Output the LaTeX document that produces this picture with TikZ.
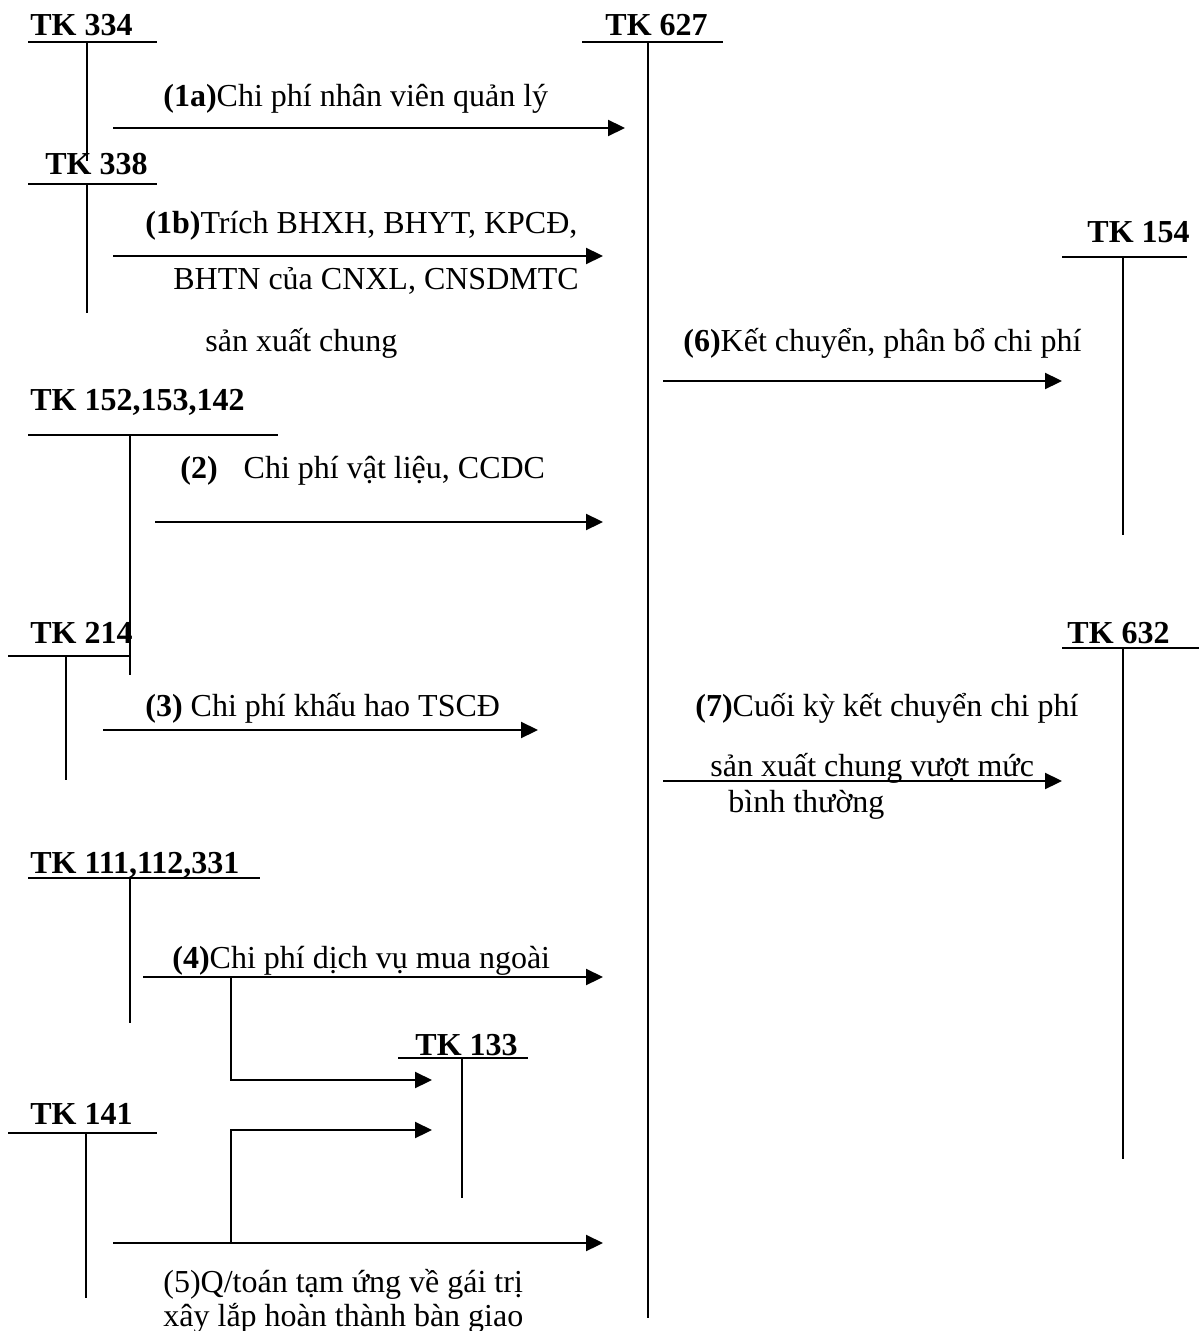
\documentclass[tikz,border=0pt]{standalone}
\usepackage{fontspec}
\setmainfont{Liberation Serif}
\usetikzlibrary{arrows.meta}

\begin{document}
\begin{tikzpicture}[x=0.5pt,y=-0.5pt,
  font=\fontsize{16}{19}\selectfont,
  tk/.style={font=\fontsize{16}{19}\selectfont\bfseries,anchor=base west,inner sep=0pt},
  lbl/.style={anchor=base west,inner sep=0pt},
  tline/.style={line width=0.9pt},
  ar/.style={line width=1.1pt,-{Triangle[length=8.5pt,width=8pt]}},
  br/.style={line width=1.1pt}]
\useasboundingbox (0,0) rectangle (1199,1331);
% ---- T accounts: name/label/label x/baseline/line from/line to/line y/stem x/stem end ----
\foreach \n/\t/\lx/\ly/\ax/\bx/\hy/\vx/\vy in {
  334/{TK 334}/30/36/28/157/42/87/161,
  627/{TK 627}/605/36/582/723/42/648/1318,
  338/{TK 338}/45/175/28/157/184/87/313,
  154/{TK 154}/1087/243/1062/1187/257/1123/535,
  152/{TK 152,153,142}/30/411/28/278/435/130/675,
  214/{TK 214}/30/643/8/130/656/66/780,
  632/{TK 632}/1067/643/1062/1199/648/1123/1159,
  111/{TK 111,112,331}/30/873/28/260/878/130/1023,
  133/{TK 133}/415/1055/398/528/1058/462/1198,
  141/{TK 141}/30/1124/8/157/1133/86/1298}{
  \node[tk] (tk\n) at (\lx,\ly) {\t};
  \draw[tline] (\ax,\hy) -- (\bx,\hy) (\vx,\hy) -- (\vx,\vy);}
% ---- arrow ends ----
\coordinate (s1a) at (113,128);  \coordinate (e1a) at (625,128);
\coordinate (s1b) at (113,256);  \coordinate (e1b) at (603,256);
\coordinate (s6) at (663,381);   \coordinate (e6) at (1062,381);
\coordinate (s2) at (155,522);   \coordinate (e2) at (603,522);
\coordinate (s3) at (103,730);   \coordinate (e3) at (538,730);
\coordinate (s7) at (663,781);   \coordinate (e7) at (1062,781);
\coordinate (s4) at (143,977);   \coordinate (e4) at (603,977);
\coordinate (b4) at (231,977);   \coordinate (v4) at (432,1080);
\coordinate (s5) at (113,1243);  \coordinate (e5) at (603,1243);
\coordinate (b5) at (231,1243);  \coordinate (v5) at (432,1130);
\draw[ar] (s1a) -- (e1a);
\draw[ar] (s1b) -- (e1b);
\draw[ar] (s6) -- (e6);
\draw[ar] (s2) -- (e2);
\draw[ar] (s3) -- (e3);
\draw[ar] (s7) -- (e7);
\draw[ar] (s4) -- (e4);
\draw[ar] (b4) |- (v4);
\draw[ar] (s5) -- (e5);
\draw[ar] (b5) |- (v5);
% ---- texts ----
\node[lbl] (l1a) at (163,107) {\textbf{(1a)}Chi phí nhân viên quản lý};
\node[lbl] (l1b) at (145,234) {\textbf{(1b)}Trích BHXH, BHYT, KPCĐ,};
\node[lbl] (l1c) at (173,290) {BHTN của CNXL, CNSDMTC};
\node[lbl] (l1d) at (205,352) {sản xuất chung};
\node[lbl] (l6) at (683,352) {\textbf{(6)}Kết chuyển, phân bổ chi phí};
\node[lbl] (l2) at (180,478) {\textbf{(2)}\hspace{13pt}Chi phí vật liệu, CCDC};
\node[lbl] (l3) at (145,716) {\textbf{(3)} Chi phí khấu hao TSCĐ};
\node[lbl] (l7a) at (695,716) {\textbf{(7)}Cuối kỳ kết chuyển chi phí};
\node[lbl] (l7b) at (710,776) {sản xuất chung vượt mức};
\node[lbl] (l7c) at (728,812) {bình thường};
\node[lbl] (l4) at (172,968) {\textbf{(4)}Chi phí dịch vụ mua ngoài};
\node[lbl] (l5a) at (163,1292) {(5)Q/toán tạm ứng về gái trị};
\node[lbl] (l5b) at (163,1326) {xây lắp hoàn thành bàn giao};
\end{tikzpicture}
\end{document}
